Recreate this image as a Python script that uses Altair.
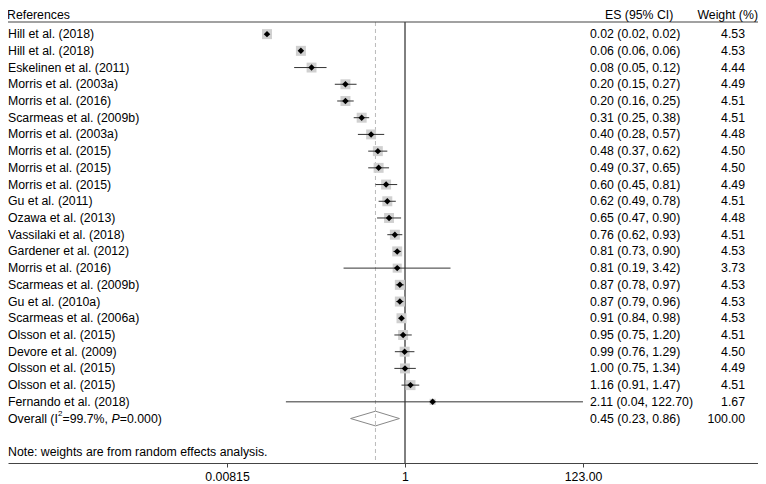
import altair as alt
import pandas as pd

# ---------------- data ----------------
studies = ["Hill et al. (2018)", "Hill et al. (2018)", "Eskelinen et al. (2011)",
           "Morris et al. (2003a)", "Morris et al. (2016)", "Scarmeas et al. (2009b)",
           "Morris et al. (2003a)", "Morris et al. (2015)", "Morris et al. (2015)",
           "Morris et al. (2015)", "Gu et al. (2011)", "Ozawa et al. (2013)",
           "Vassilaki et al. (2018)", "Gardener et al. (2012)", "Morris et al. (2016)",
           "Scarmeas et al. (2009b)", "Gu et al. (2010a)", "Scarmeas et al. (2006a)",
           "Olsson et al. (2015)", "Devore et al. (2009)", "Olsson et al. (2015)",
           "Olsson et al. (2015)", "Fernando et al. (2018)"]
es = [0.024, 0.06, 0.08, 0.20, 0.20, 0.31, 0.40, 0.48, 0.49, 0.60, 0.62, 0.65,
      0.76, 0.81, 0.81, 0.87, 0.87, 0.91, 0.95, 0.99, 1.00, 1.16, 2.11]
lo = [0.023, 0.058, 0.05, 0.15, 0.16, 0.25, 0.28, 0.37, 0.37, 0.45, 0.49, 0.47,
      0.62, 0.73, 0.19, 0.78, 0.79, 0.84, 0.75, 0.76, 0.75, 0.91, 0.04]
hi = [0.0245, 0.062, 0.12, 0.27, 0.25, 0.38, 0.57, 0.62, 0.65, 0.81, 0.78, 0.90,
      0.93, 0.90, 3.42, 0.97, 0.96, 0.98, 1.20, 1.29, 1.34, 1.47, 122.70]
weights = [4.53, 4.53, 4.44, 4.49, 4.51, 4.51, 4.48, 4.50, 4.50, 4.49, 4.51, 4.48,
           4.51, 4.53, 3.73, 4.53, 4.53, 4.53, 4.51, 4.50, 4.49, 4.51, 1.67]

overall_es, overall_lo, overall_hi, overall_w = 0.45, 0.23, 0.86, 100.00
overall_parts = ["Overall (I", "2", "=99.7%, ", "P", "=0.000)"]
note_text = "Note: weights are from random effects analysis."
headers = ["References", "ES (95% CI)", "Weight (%)"]
tick_values = [0.00815, 1, 123]
tick_labels = ["0.00815", "1", "123.00"]

# ---------------- tables ----------------
n = len(studies)
df = pd.DataFrame({
    "row": list(range(1, n + 1)),
    "study": studies,
    "es": es, "lo": lo, "hi": hi, "w": weights,
    "ci": [f"{e:.2f} ({l:.2f}, {h:.2f})" for e, l, h in zip(es, lo, hi)],
    "wt": [f"{w:.2f}" for w in weights],
})
overall_row = n + 1
note_row = n + 3
dov = pd.DataFrame({
    "row": [overall_row], "es": [overall_es], "lo": [overall_lo], "hi": [overall_hi],
    "ci": [f"{overall_es:.2f} ({overall_lo:.2f}, {overall_hi:.2f})"],
    "wt": [f"{overall_w:.2f}"],
})
half = 0.44
ddia = pd.DataFrame({
    "x": [overall_lo, overall_es, overall_hi, overall_es, overall_lo],
    "row": [overall_row, overall_row - half, overall_row, overall_row + half, overall_row],
    "o": [0, 1, 2, 3, 4],
})
dref = pd.DataFrame({"x": [1.0]})
ddash = pd.DataFrame({"x": [overall_es]})

W, H = 750, 441
FONT = "Liberation Sans"
FS = 12.3

label_expr = " : ".join(
    [f"datum.value < {v * 1.01} && datum.value > {v * 0.99} ? '{t}'" for v, t in zip(tick_values, tick_labels)]
) + " : ''"

xscale = alt.Scale(type="log", domain=[2.19e-5, 13900], nice=False)
xaxis = alt.Axis(values=tick_values, labelExpr=label_expr, title=None, grid=False,
                 domainColor="#444", tickColor="#444", tickSize=4, labelPadding=3,
                 labelFont=FONT, labelFontSize=FS, labelColor="#000")
ytop, ybot = 0.274, 26.66
yscale = alt.Scale(domain=[ytop, ybot], reverse=True, nice=False, zero=False)


def X(f):
    return alt.X(f"{f}:Q", scale=xscale, axis=xaxis)


def Y(f="row"):
    return alt.Y(f"{f}:Q", scale=yscale, axis=None)


base = alt.Chart(df)

boxes = base.mark_square(color="#d0d0d0", opacity=1).encode(
    x=X("es"), y=Y(),
    size=alt.Size("w:Q", scale=alt.Scale(domain=[0, 4.53], range=[0, 100]), legend=None),
)
ci = base.mark_rule(color="#333", strokeWidth=1).encode(x=X("lo"), x2="hi:Q", y=Y())
pts = base.mark_point(shape="diamond", filled=True, color="#000", size=42, opacity=1).encode(
    x=X("es"), y=Y())

dash = alt.Chart(ddash).mark_rule(color="#bbb", strokeDash=[4, 3], strokeWidth=1).encode(
    x=X("x"), y=alt.value(0), y2=alt.value(H))
refl = alt.Chart(dref).mark_rule(color="#000", strokeWidth=1).encode(
    x=X("x"), y=alt.value(0), y2=alt.value(H))
topl = alt.Chart(dref).mark_rule(color="#444", strokeWidth=1.2).encode(
    x=alt.value(0), x2=alt.value(W), y=alt.value(0))

diamond = alt.Chart(ddia).mark_line(color="#888", strokeWidth=1).encode(
    x=X("x"), y=Y(), order="o:Q")

tstyle = dict(font=FONT, fontSize=FS, color="#000", baseline="middle")
lab = base.mark_text(align="left", **tstyle).encode(x=alt.value(0), y=Y(), text="study:N")
cit = base.mark_text(align="left", **tstyle).encode(x=alt.value(582), y=Y(), text="ci:N")
wtt = base.mark_text(align="right", **tstyle).encode(x=alt.value(737), y=Y(), text="wt:N")
ocit = alt.Chart(dov).mark_text(align="left", **tstyle).encode(x=alt.value(582), y=Y(), text="ci:N")
owtt = alt.Chart(dov).mark_text(align="right", **tstyle).encode(x=alt.value(737), y=Y(), text="wt:N")

# overall label pieces
dlab = pd.DataFrame({"row": [overall_row]})
offs = [0, 50, 54.5, 103.4, 111.8]
ov_layers = []
for i, (txt, xo) in enumerate(zip(overall_parts, offs)):
    kw = dict(tstyle)
    extra = {}
    if i == 1:
        kw["fontSize"] = 8
        extra["dy"] = -5
    if i == 3:
        extra["fontStyle"] = "italic"
    ov_layers.append(alt.Chart(dlab).mark_text(align="left", text=txt, **kw, **extra).encode(
        x=alt.value(xo), y=Y()))

dnote = pd.DataFrame({"row": [note_row]})
note = alt.Chart(dnote).mark_text(align="left", text=note_text, **tstyle).encode(
    x=alt.value(0), y=Y())

# header row sits 7 px above the top rule
hdr_row = ytop - 7 * (ybot - ytop) / H
dh = pd.DataFrame({"row": [hdr_row]})
h1 = alt.Chart(dh).mark_text(align="left", text=headers[0], **tstyle).encode(x=alt.value(-1), y=Y())
h2 = alt.Chart(dh).mark_text(align="left", text=headers[1], **tstyle).encode(x=alt.value(597), y=Y())
h3 = alt.Chart(dh).mark_text(align="right", text=headers[2], **tstyle).encode(x=alt.value(750), y=Y())

chart = alt.layer(
    dash, refl, topl, boxes, ci, pts, diamond, lab, cit, wtt, ocit, owtt, *ov_layers, note, h1, h2, h3
).properties(
    width=W, height=H,
    autosize=alt.AutoSizeParams(type="none"),
    padding={"left": 0, "top": 14, "right": 0, "bottom": 20},
).configure_view(stroke=None)

chart.save("out.html", embed_options={"renderer": "svg", "actions": False})
